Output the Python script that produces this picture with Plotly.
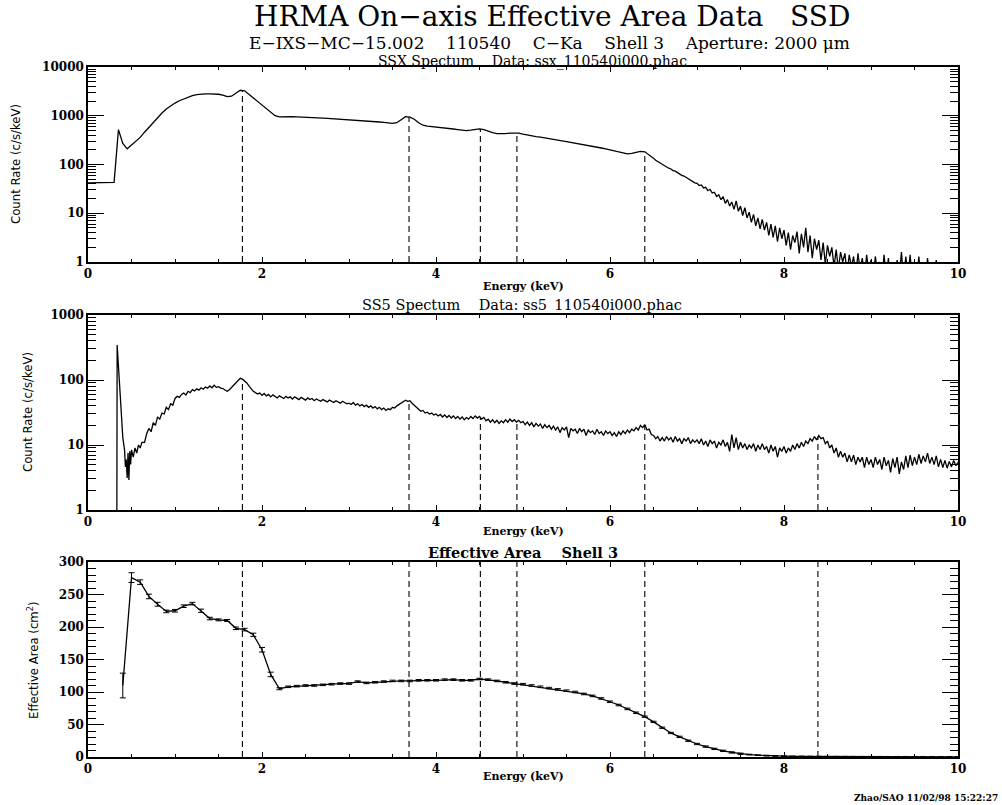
import numpy as np
import plotly.graph_objects as go

# ---------------------------------------------------------------- data ----
# SSX spectrum (count rate, c/s/keV): 0.05 keV bins up to 6.45 keV ...
ssx_energy_main = np.round(np.arange(0.0, 6.45001, 0.05), 3)
ssx_rate_main = [
    42, 42, 42, 42, 42, 42, 43, 520, 270, 210, 250, 295, 360, 460, 580, 740, 920, 1140, 1370, 1600,
    1820, 2030, 2220, 2400, 2580, 2720, 2790, 2800, 2810, 2790, 2760, 2650, 2460, 2520, 2950, 3330, 3250, 2750, 2300, 1950,
    1650, 1380, 1150, 1000, 950, 960, 965, 955, 950, 945, 935, 925, 915, 905, 895, 880, 870, 860, 850, 835,
    825, 815, 800, 790, 780, 770, 755, 745, 730, 715, 700, 720, 830, 960, 940, 850, 720, 640, 610, 600,
    590, 580, 565, 550, 535, 520, 505, 495, 505, 530, 540, 520, 480, 450, 430, 425, 430, 440, 445, 440,
    420, 400, 385, 375, 365, 350, 335, 325, 315, 305, 295, 285, 275, 262, 252, 245, 237, 228, 218, 208,
    200, 192, 183, 172, 165, 170, 180, 186, 182, 160,
]
# ... then 0.025 keV bins over the falling, noisy tail (6.50 - 9.80 keV)
ssx_energy_tail = np.round(np.arange(6.5, 9.80001, 0.025), 3)
ssx_rate_tail = [
    135, 122, 114, 106, 102, 94, 90, 84, 81, 75, 73, 68, 66, 60, 58, 54, 52, 47, 45, 42,
    41, 37, 38, 33, 34, 29, 31, 26, 27, 22, 24, 19, 22, 16, 19, 14, 17, 12, 18, 11,
    14, 9, 13, 8, 10.5, 6.5, 9.5, 5.5, 8, 4.8, 7.5, 4.5, 6.5, 3.5, 6, 3.2, 5.5, 2.6, 5, 3,
    4.5, 2.2, 4, 1.8, 3.5, 2.5, 4.2, 1.5, 3.8, 2, 5, 1.6, 3.5, 1.2, 3, 1.8, 2.8, 1.1, 2.5, 0.9,
    2.2, 1.3, 2, 0.8, 1.8, 0.7, 1.6, 1.0, 1.5, 0.6, 1.4, 0.8, 1.3, 0.5, 1.5, 0.7, 1.2, 0.5, 1.4, 0.6,
    1.1, 0.5, 1.3, 0.6, 1.0, 0.4, 1.4, 0.5, 1.2, 0.4, 0.8, 0.4, 1.1, 0.5, 1.6, 0.4, 1.3, 0.5, 1.4, 0.4,
    0.9, 0.4, 1.3, 0.4, 0.8, 0.4, 1.2, 0.4, 0.7, 0.4, 1.1, 0.4, 0.5,
]

# SS5 spectrum: fine bins across the low-energy edge ...
ss5_energy_low = [0.33, 0.335, 0.37, 0.40, 0.42, 0.43, 0.44, 0.45, 0.46, 0.47, 0.48,
                  0.49, 0.50, 0.52, 0.54, 0.56, 0.58, 0.60, 0.62]
ss5_rate_low = [0.05, 345, 60, 13, 8.4, 4.6, 6, 3.1, 7.5, 2.9, 8, 5, 8.4, 6.5, 9, 7.5, 10, 9, 11]
# ... then 0.025 keV bins from 0.65 to 10.00 keV
ss5_energy_main = np.round(np.arange(0.65, 10.00001, 0.025), 3)
ss5_rate_main = [
    11, 15, 18, 16, 22, 20, 27, 25, 31, 30, 38, 35, 43, 41,
    52, 56, 54, 60, 63, 59, 67, 64, 71, 68, 73, 70, 76, 72, 78, 75, 81, 76, 83, 77,
    79, 75, 74, 70, 67, 71, 77, 84, 91, 99, 106, 103, 97, 90, 81, 74, 67, 64, 61, 63,
    58, 62, 57, 60, 55, 59, 56, 53, 57, 54, 52, 56, 53, 55, 51, 55, 52, 50, 54, 51,
    49, 53, 50, 52, 48, 51, 49, 47, 50, 48, 46, 49, 47, 45, 48, 46, 44, 47, 45, 43,
    44, 42, 45, 41, 43, 40, 42, 39, 41, 38, 40, 37, 39, 36, 38, 35, 37, 34, 36, 35,
    38, 37, 40, 42, 44, 46, 49, 47, 48, 44, 41, 38, 35, 33, 34, 31, 32, 30, 31, 29,
    30, 28, 29.5, 27, 29, 26.5, 28.5, 26, 28, 25.5, 27.5, 25, 27, 24.5, 26.5, 25, 27.5, 25.5, 28, 26,
    27.5, 25, 26.5, 23.5, 25, 22.5, 24.5, 22, 24, 21.5, 23.5, 22, 24.5, 22.5, 25, 23, 24.5, 22.5, 24, 22,
    23, 20.5, 22.5, 20, 22, 19, 21.5, 19.5, 21, 18, 20.5, 18.5, 20, 17.5, 19.5, 17, 19, 15.5, 18.5, 17,
    19, 13, 18, 16.5, 17.5, 15, 18, 16, 17.5, 14, 17, 15.5, 16.5, 14.5, 17.5, 15, 16, 14, 16.5, 15,
    16, 14, 15.5, 13.5, 16, 14.5, 16.5, 15, 17, 15.5, 17.5, 16.5, 18.5, 17, 20, 18.5, 20.5, 17, 17.5, 14.5,
    14, 12.5, 13.5, 11.5, 13, 11.5, 13.5, 12, 13, 11, 13.5, 11.5, 12.5, 10.5, 12.5, 11.5, 13, 10.5, 12, 11,
    12, 10.5, 12.5, 10, 11.5, 9.5, 12, 10.5, 11.5, 9, 11, 10, 12, 9.5, 11, 8, 14.5, 9, 13, 8.5,
    11, 9, 10.5, 8.5, 10, 9, 10.5, 8, 10, 8.5, 10.5, 8.5, 9.5, 7.5, 10, 8, 9.5, 6.5, 9, 8,
    9.5, 7.5, 9, 8, 10, 8.5, 10.5, 9, 11, 9.5, 11.5, 10.5, 12.5, 11.5, 13.5, 12, 14, 12.5, 13, 10.5,
    11.5, 9, 10, 7.5, 9, 6.5, 8, 6.5, 7.5, 5.5, 7, 5.5, 7, 5, 6.5, 5.5, 6.5, 4.5, 6.5, 5,
    6, 4.5, 6.5, 5, 6, 4.2, 6.5, 4.8, 5.8, 3.8, 6.2, 4.5, 6.5, 3.6, 5.5, 4.2, 6.8, 4.5, 7, 4.8,
    6.5, 5, 7.2, 5.2, 6.8, 5.5, 7.5, 5.2, 6.5, 5, 6.8, 4.6, 6, 4.5, 5.8, 4.4, 5.6, 4.6, 5.8, 4.8,
    5.4,
]

# Effective area of shell 3 (cm^2) with 1-sigma errors, 0.1 keV steps
ea_energy = np.round(np.arange(0.4, 10.00001, 0.1), 1)
ea_area = [
    110, 276, 269, 247, 235, 224, 225, 232, 236, 225,
    213, 211, 210, 198, 196, 188, 165, 127, 105, 108,
    109, 110, 110, 111, 112, 113, 113, 116, 114, 115,
    116, 117, 117, 117, 118, 118, 118, 119, 119, 118,
    118, 120, 119, 117, 115, 113, 112, 110, 108, 106,
    104, 102, 100, 97, 94, 90, 85, 80, 74, 68,
    62, 54, 45, 37, 31, 25, 20, 16, 12.5, 9.5,
    7, 5, 3.8, 2.8, 2.1, 1.6, 1.2, 1.0, 0.8, 0.7,
    0.6, 0.5, 0.5, 0.5, 0.4, 0.4, 0.4, 0.4, 0.3, 0.3,
    0.3, 0.3, 0.3, 0.2, 0.2, 0.2, 0.2,
]
ea_error = [
    19, 7.5, 3.5, 3.5, 3, 2, 2, 2, 2, 2.5,
    2, 1.5, 1.5, 2, 2, 2.5, 3.5, 3.5, 1.5, 1.2,
    1.2, 1.2, 1.2, 1.2, 1.2, 1.2, 1.2, 1.2, 1.2, 1.2,
    1.2, 1.2, 1.2, 1.2, 1.2, 1.2, 1.2, 1.2, 1.2, 1.2,
    1.2, 1.2, 1.2, 1.2, 1.2, 1.2, 1.2, 1.2, 1.2, 1.2,
    1.2, 1.2, 1.2, 1.2, 1.2, 1.2, 1.2, 1.2, 1.2, 1.2,
    1.0, 1.0, 1.0, 1.0, 1.0, 1.0, 1.0, 1.0, 1.0, 1.0,
    1.0, 1.0, 0.5, 0.5, 0.5, 0.5, 0.5, 0.5, 0.5, 0.5,
    0.5, 0.5, 0.5, 0.5, 0.5, 0.5, 0.5, 0.5, 0.5, 0.5,
    0.5, 0.5, 0.5, 0.5, 0.5, 0.5, 0.5,
]

# Source line energies (keV): W M-alpha, Ca K-alpha, Ti K-alpha, Ti K-beta, Fe K-alpha, W L-alpha
line_energy = [1.775, 3.69, 4.51, 4.93, 6.40, 8.39]
ssx_lines = line_energy[:5]
ss5_lines = line_energy

energy_ticks = [0, 2, 4, 6, 8, 10]
ssx_ticks = [1, 10, 100, 1000, 10000]
ss5_ticks = [1, 10, 100, 1000]
ea_ticks = [0, 50, 100, 150, 200, 250, 300]

# ------------------------------------------------------------- styling ----
SERIF = "DejaVu Serif"
NARROW = "Liberation Sans Narrow, DejaVu Sans Condensed, Liberation Sans"
NB3 = "\u00a0\u00a0\u00a0"
NB4 = "\u00a0\u00a0\u00a0\u00a0"
LINE = dict(color="black", width=1.3)
DASH = dict(color="black", width=1.1, dash="6px,4px")

ssx_energy = np.concatenate([ssx_energy_main, ssx_energy_tail])
ssx_rate = np.array(ssx_rate_main + ssx_rate_tail, dtype=float)
ss5_energy = np.concatenate([ss5_energy_low, ss5_energy_main])
ss5_rate = np.array(ss5_rate_low + ss5_rate_main, dtype=float)

fig = go.Figure()
fig.add_trace(go.Scatter(x=ssx_energy, y=ssx_rate, mode="lines", line=LINE,
                         xaxis="x", yaxis="y", showlegend=False))
fig.add_trace(go.Scatter(x=ss5_energy, y=ss5_rate, mode="lines", line=LINE,
                         xaxis="x2", yaxis="y2", showlegend=False))
fig.add_trace(go.Scatter(x=ea_energy, y=ea_area, mode="lines", line=LINE,
                         error_y=dict(type="data", array=ea_error, visible=True,
                                      color="black", thickness=1, width=3),
                         xaxis="x3", yaxis="y3", showlegend=False))


def level_at(e, xs, ys):
    """Spectrum level at energy e, interpolated in log space."""
    return float(10 ** np.interp(e, xs, np.log10(np.asarray(ys, dtype=float))))


# dashed markers: from the spectrum down to the bottom of the plot
for e in ssx_lines:
    fig.add_trace(go.Scatter(x=[e, e], y=[1, level_at(e, ssx_energy, ssx_rate)],
                             mode="lines", line=DASH, xaxis="x", yaxis="y",
                             showlegend=False, hoverinfo="skip"))
for e in ss5_lines:
    fig.add_trace(go.Scatter(x=[e, e], y=[1, level_at(e, ss5_energy, ss5_rate)],
                             mode="lines", line=DASH, xaxis="x2", yaxis="y2",
                             showlegend=False, hoverinfo="skip"))
for e in line_energy:
    fig.add_trace(go.Scatter(x=[e, e], y=[ea_ticks[0], ea_ticks[-1]],
                             mode="lines", line=DASH, xaxis="x3", yaxis="y3",
                             showlegend=False, hoverinfo="skip"))

tickfont = dict(family=SERIF, size=12, color="black", weight="bold")


def x_axis(anchor):
    return dict(anchor=anchor, domain=[0, 1], range=[0, 10], tickvals=energy_ticks,
                ticktext=[str(v) for v in energy_ticks], ticks="inside", ticklen=5,
                tickwidth=1, tickcolor="black", showline=True, linecolor="black",
                linewidth=1.5, mirror="ticks", showgrid=False, zeroline=False,
                tickfont=tickfont,
                minor=dict(dtick=0.5, ticks="inside", ticklen=3, tickcolor="black",
                           tickwidth=1, showgrid=False))


def y_axis(anchor, domain, ticks, log, rng, minor_dtick):
    ax = dict(anchor=anchor, domain=domain, range=rng, tickvals=ticks,
              ticktext=[str(v) for v in ticks], ticks="inside", ticklen=16,
              tickwidth=1, tickcolor="black", showline=True, linecolor="black",
              linewidth=1.5, mirror="ticks", showgrid=False, zeroline=False,
              tickfont=tickfont,
              minor=dict(dtick=minor_dtick, ticks="inside", ticklen=8,
                         tickcolor="black", tickwidth=1, showgrid=False))
    if log:
        ax["type"] = "log"
    return ax


H = 690.0  # plot-area height in px (805 - top 67 - bottom 48)


def py(px):
    return (757 - px) / H


def px_(x):
    return (x - 88) / 870.0


fig.update_layout(
    width=1002, height=805,
    margin=dict(l=88, r=44, t=67, b=48),
    paper_bgcolor="white", plot_bgcolor="white",
    xaxis=x_axis("y"), xaxis2=x_axis("y2"), xaxis3=x_axis("y3"),
    yaxis=y_axis("x", [py(262), 1.0], ssx_ticks, True, [0, 4], "D1"),
    yaxis2=y_axis("x2", [py(510), py(315)], ss5_ticks, True, [0, 3], "D1"),
    yaxis3=y_axis("x3", [0.0, py(562)], ea_ticks, False, [0, 300], 10),
)


def label(text, x, y, size, family=SERIF, bold=False, angle=0, xanchor="center"):
    fig.add_annotation(text=text, xref="paper", yref="paper", x=x, y=y,
                       xanchor=xanchor, yanchor="middle", showarrow=False,
                       textangle=angle,
                       font=dict(family=family, size=size, color="black",
                                 weight="bold" if bold else "normal"))


label("HRMA On\u2212axis Effective Area Data" + NB3 + "SSD", px_(552), py(16.5), 28)
label("E\u2212IXS\u2212MC\u221215.002" + NB4 + "110540" + NB4 + "C\u2212Ka" + NB4 +
      "Shell 3" + NB4 + "Aperture: 2000 \u03bcm", px_(549), py(43.5), 17)
label("SSX Spectum" + NB4 + "Data: ssx_110540i000.phac", px_(532), py(61), 14)
label("SS5 Spectum" + NB4 + "Data: ss5_110540i000.phac", px_(522), py(305), 14.5)
label("Effective Area" + NB4 + "Shell 3", px_(523), py(552), 14.5, bold=True)

for ypix in (286, 531, 777):
    label("Energy (keV)", px_(523), py(ypix), 11, bold=True)

label("Count Rate (c/s/keV)", px_(15), py(164), 13, family=NARROW, angle=-90)
label("Count Rate (c/s/keV)", px_(27), py(412), 13, family=NARROW, angle=-90)
label("Effective Area (cm<sup>2</sup>)", px_(33), py(660), 13, family=NARROW, angle=-90)

label("Zhao/SAO 11/02/98 15:22:27", px_(1000), py(798), 9, bold=True, xanchor="right")

fig.write_html("out.html")
